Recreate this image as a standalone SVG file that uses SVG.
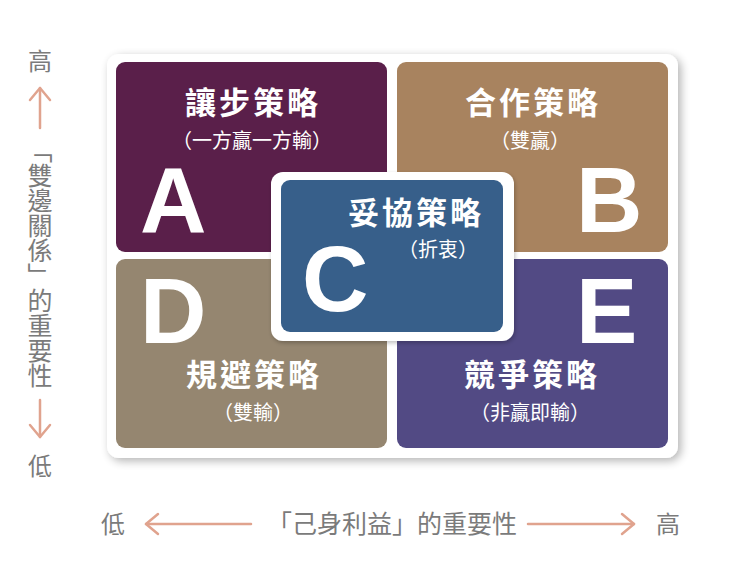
<svg xmlns="http://www.w3.org/2000/svg" width="738" height="570" viewBox="0 0 738 570">
  <defs>
    <filter id="shadow" x="-10%" y="-10%" width="120%" height="120%">
      <feGaussianBlur in="SourceAlpha" stdDeviation="5"/>
      <feOffset dx="3" dy="3" result="b"/>
      <feComponentTransfer><feFuncA type="linear" slope="0.3"/></feComponentTransfer>
      <feMerge><feMergeNode/><feMergeNode in="SourceGraphic"/></feMerge>
    </filter>
    <filter id="shadow2" x="-10%" y="-10%" width="120%" height="120%">
      <feGaussianBlur in="SourceAlpha" stdDeviation="2"/>
      <feOffset dx="1" dy="2" result="b"/>
      <feComponentTransfer><feFuncA type="linear" slope="0.25"/></feComponentTransfer>
      <feMerge><feMergeNode/><feMergeNode in="SourceGraphic"/></feMerge>
    </filter>
    <marker id="chev" viewBox="-15 -12 17 24" refX="0" refY="0" markerWidth="17" markerHeight="24" markerUnits="userSpaceOnUse" orient="auto" overflow="visible">
      <path d="M -12 -10 L 0 0 L -12 10" fill="none" stroke="#e0a38e" stroke-width="2.5" stroke-linecap="round" stroke-linejoin="round"/>
    </marker>
  </defs>
  <style>
    .title { font-family: "Noto Sans CJK TC", "Noto Sans CJK SC", sans-serif; font-weight: 700; font-size: 31px; fill: #ffffff; text-anchor: middle; letter-spacing: 3px; }
    .sub { font-family: "Noto Sans CJK TC", "Noto Sans CJK SC", serif; font-weight: 400; font-size: 20px; fill: #ffffff; text-anchor: middle; }
    .big { font-family: "Liberation Sans", Arial, sans-serif; font-weight: 700; font-size: 92px; fill: #ffffff; }
    .axis { font-family: "Noto Sans CJK TC", "Noto Sans CJK SC", sans-serif; font-weight: 400; fill: #7b7b7b; }
    .arrow { fill: none; stroke: #e0a38e; stroke-width: 2.5; stroke-linecap: round; marker-end: url(#chev); }
  </style>
  <rect width="738" height="570" fill="#ffffff"/>

  <g id="panel">
    <rect x="107" y="54" width="571" height="404" rx="12" fill="#ffffff" filter="url(#shadow)"/>
  </g>

  <g id="nodeA">
    <rect x="116" y="62" width="271" height="190" rx="9" fill="#5a1f4a"/>
    <text class="title" x="253" y="114">讓步策略</text>
    <text class="sub" x="252" y="148">（一方贏一方輸）</text>
    <text class="big" x="140" y="232">A</text>
  </g>

  <g id="nodeB">
    <rect x="397" y="62" width="271" height="190" rx="9" fill="#a8835f"/>
    <text class="title" x="533" y="114">合作策略</text>
    <text class="sub" x="530" y="148">（雙贏）</text>
    <text class="big" x="576" y="232">B</text>
  </g>

  <g id="nodeD">
    <rect x="116" y="259" width="271" height="189" rx="9" fill="#958670"/>
    <text class="title" x="254" y="386">規避策略</text>
    <text class="sub" x="253" y="420">（雙輸）</text>
    <text class="big" x="140" y="343">D</text>
  </g>

  <g id="nodeE">
    <rect x="397" y="259" width="271" height="189" rx="9" fill="#524a84"/>
    <text class="title" x="532" y="386">競爭策略</text>
    <text class="sub" x="530" y="420">（非贏即輸）</text>
    <text class="big" x="576" y="343">E</text>
  </g>

  <g id="nodeC">
    <rect x="271" y="172" width="243" height="169" rx="12" fill="#ffffff" filter="url(#shadow2)"/>
    <rect x="281" y="180" width="222" height="152" rx="9" fill="#375f8a"/>
    <text class="title" x="416" y="224">妥協策略</text>
    <text class="sub" x="438" y="257">（折衷）</text>
    <text class="big" x="302" y="311">C</text>
  </g>

  <g id="connectors">
    <line class="arrow" x1="40" y1="128" x2="40" y2="88"/>
    <line class="arrow" x1="40" y1="400" x2="40" y2="437"/>
    <line class="arrow" x1="251" y1="524" x2="146" y2="524"/>
    <line class="arrow" x1="528" y1="524" x2="634" y2="524"/>
  </g>

  <g id="axes">
    <text class="axis" x="40" y="70" font-size="24" text-anchor="middle">高</text>
    <text class="axis" x="40" y="138" font-size="25" writing-mode="vertical-rl" style="text-orientation: upright;">「雙邊關係」的重要性</text>
    <text class="axis" x="40" y="475" font-size="24" text-anchor="middle">低</text>
    <text class="axis" x="113" y="533" font-size="24" text-anchor="middle">低</text>
    <text class="axis" x="392" y="533" font-size="25" text-anchor="middle">「己身利益」的重要性</text>
    <text class="axis" x="668" y="533" font-size="24" text-anchor="middle">高</text>
  </g>
</svg>
